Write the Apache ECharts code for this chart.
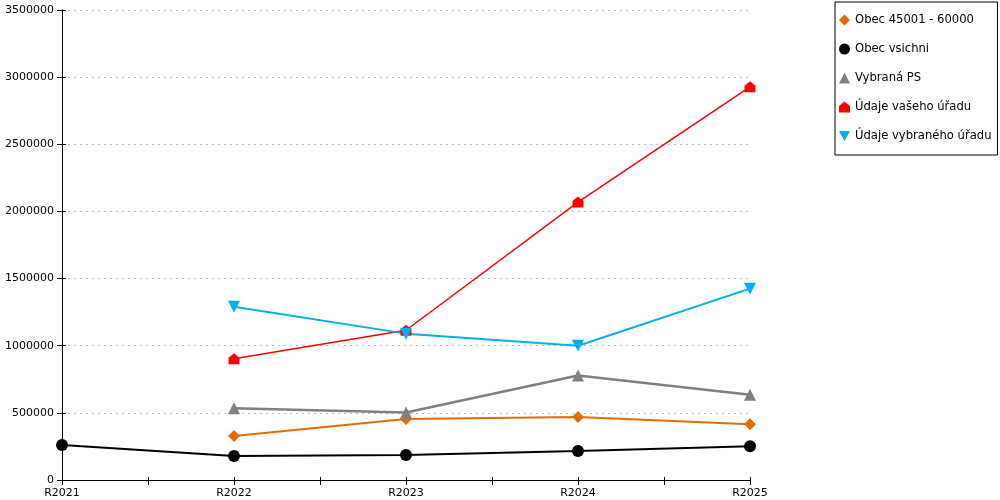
<!DOCTYPE html>
<html><head><meta charset="utf-8">
<script src="https://cdn.jsdelivr.net/npm/echarts@6/dist/echarts.min.js"></script>
<style>html,body{margin:0;padding:0;background:#fff}#c{width:1000px;height:500px}</style>
</head><body><div id="c"></div>
<script>
const categories = ['R2021','R2022','R2023','R2024','R2025'];
const obec45001 = [null, 328000, 454000, 470000, 416000];
const obecVsichni = [261000, 179000, 186000, 216000, 252000];
const vybranaPS = [null, 535000, 503000, 778000, 634000];
const udajeVaseho = [null, 903000, 1115000, 2070000, 2928000];
const udajeVybraneho = [null, 1290000, 1090000, 1000000, 1425000];
const yTicks = [0, 500000, 1000000, 1500000, 2000000, 2500000, 3000000, 3500000];

const houseSym = 'path://M0,10 L0,4 L5,0 L10,4 L10,10 Z';
const invTri = 'path://M0,0 L10,0 L5,9 Z';
const font = 'DejaVu Sans';
const yMax = yTicks[yTicks.length-1], yStep = yTicks[1]-yTicks[0];
function pts(arr){ return arr.map((v,i)=>[i,v]); }
function mk(name, data, color, symbol, size, width){
  return {name, type:'line', data:pts(data), symbol, symbolSize:size, showSymbol:true,
    itemStyle:{color}, lineStyle:{color, width}, connectNulls:false, animation:false};
}
const chart = echarts.init(document.getElementById('c'));
chart.setOption({
  animation:false,
  textStyle:{fontFamily:font},
  grid:{left:62, right:250, top:10, bottom:20, outerBoundsMode:'none', containLabel:false},
  legend:{orient:'vertical', left:835, top:2, padding:[11,6,12,4], itemGap:15,
    itemWidth:11, itemHeight:11, borderColor:'#000', borderWidth:1,
    textStyle:{fontFamily:font, fontSize:11.6, color:'#000', lineHeight:14},
    data:[
      {name:'Obec 45001 - 60000', icon:'diamond'},
      {name:'Obec vsichni', icon:'circle'},
      {name:'Vybraná PS', icon:'triangle'},
      {name:'Údaje vašeho úřadu', icon:houseSym},
      {name:'Údaje vybraného úřadu', icon:invTri}
    ]},
  xAxis:[{type:'value', min:0, max:categories.length-1, interval:1,
    axisLine:{show:true, onZero:false, lineStyle:{color:'#000', width:1}},
    axisTick:{show:true, length:5, lineStyle:{color:'#000'}},
    minorTick:{show:true, splitNumber:2, length:5, lineStyle:{color:'#000'}},
    splitLine:{show:false},
    axisLabel:{color:'#000', fontSize:11, fontFamily:font, margin:8,
      formatter:v=>categories[Math.round(v)]||''}},
    {type:'value', position:'bottom', min:0, max:categories.length-1, interval:0.5,
    axisLine:{show:false, onZero:false}, axisLabel:{show:false}, splitLine:{show:false},
    axisTick:{show:true, inside:true, length:3, lineStyle:{color:'#000'}}}],
  yAxis:[{type:'value', min:0, max:yMax, interval:yStep,
    axisLine:{show:true, lineStyle:{color:'#000', width:1}},
    axisTick:{show:true, length:5, lineStyle:{color:'#000'}},
    splitLine:{show:true, lineStyle:{color:'#bbb', type:[2,4], width:1}},
    axisLabel:{color:'#000', fontSize:11, fontFamily:font, margin:8, formatter:v=>String(v)}},
    {type:'value', position:'right', min:0, max:yMax, interval:yStep,
    axisLine:{show:true, lineStyle:{color:'#000', width:1}},
    axisTick:{show:false}, axisLabel:{show:false}, splitLine:{show:false}},
    {type:'value', position:'left', min:0, max:yMax, interval:yStep,
    axisLine:{show:false}, axisLabel:{show:false}, splitLine:{show:false},
    axisTick:{show:true, inside:true, length:4, lineStyle:{color:'#000'}}}],
  series:[
    mk('Obec 45001 - 60000', obec45001, '#e36c0a', 'diamond', 12, 2),
    mk('Obec vsichni', obecVsichni, '#000000', 'circle', 12, 2),
    mk('Vybraná PS', vybranaPS, '#808080', 'triangle', 12, 2.5),
    mk('Údaje vašeho úřadu', udajeVaseho, '#ff0000', houseSym, 11, 1.5),
    mk('Údaje vybraného úřadu', udajeVybraneho, '#00b0f0', invTri, 12, 2)
  ]
});
</script></body></html>
